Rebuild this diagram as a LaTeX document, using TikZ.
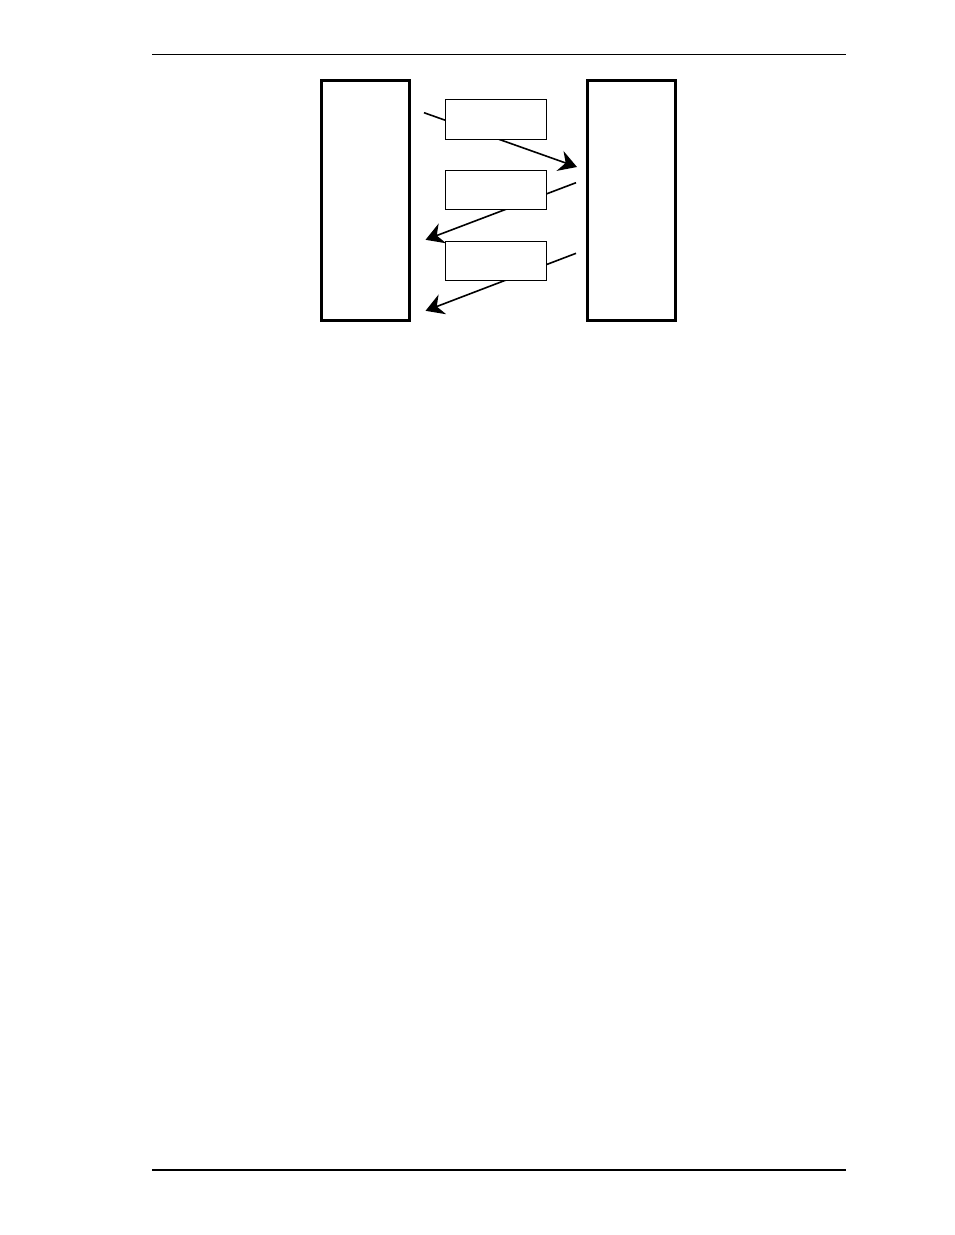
\documentclass[tikz,border=0pt]{standalone}
\usetikzlibrary{arrows.meta,positioning}
\begin{document}
\begin{tikzpicture}[x=1pt,y=-1pt]
    \useasboundingbox (0,0) rectangle (954,1235);
    \coordinate (H1) at (152,54.5);
    \coordinate (H2) at (846,54.5);
    \coordinate (F1) at (152,1170);
    \coordinate (F2) at (846,1170);
    \draw [line width=1.2pt] (H1)--(H2);
    \draw [line width=2.4pt] (F1)--(F2);

    \node [draw, line width=3pt, inner sep=0pt, minimum width=88pt, minimum height=240pt] (P) at (365.5,200) {};
    \node [draw, line width=3pt, inner sep=0pt, minimum width=88pt, minimum height=240pt] (Q) at (631.5,200) {};

    %訊息線
    \coordinate (A1) at (424,112.7);
    \coordinate (B1) at (577,167);
    \coordinate (A2) at (576,182.7);
    \coordinate (B2) at (425.5,239.8);
    \coordinate (A3) at (576,253.3);
    \coordinate (B3) at (425.5,310.8);
    \foreach \i in {1,2,3}
    {
        \draw [line width=1.6pt, -{Stealth[length=18pt, width=21pt, inset=6pt]}] (A\i)--(B\i);
    };

    \foreach \i/\y in {1/119.5,2/190,3/261}
    {
        \node [draw, fill=white, line width=1pt, inner sep=0pt, minimum width=101pt, minimum height=39.5pt] (M\i) at (496,\y) {};
    };
\end{tikzpicture}
\end{document}
